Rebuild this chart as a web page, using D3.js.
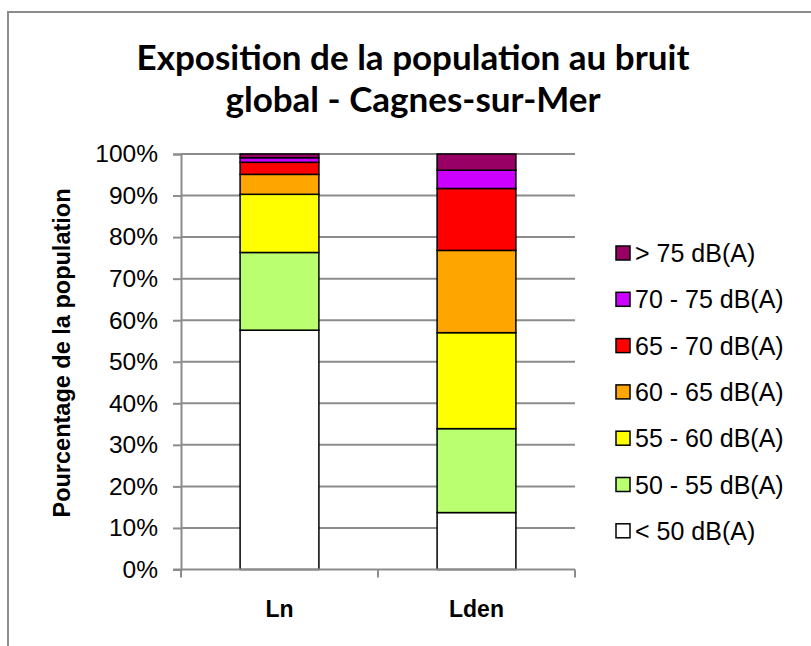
<!DOCTYPE html>
<html>
<head>
<meta charset="utf-8">
<script src="https://cdnjs.cloudflare.com/ajax/libs/d3/7.8.5/d3.min.js"></script>
<style>
  body { margin: 0; background: #fff; }
</style>
</head>
<body>
<div id="chart"></div>
<script>
var categories = ["Ln", "Lden"];
var classes = ["< 50 dB(A)", "50 - 55 dB(A)", "55 - 60 dB(A)", "60 - 65 dB(A)", "65 - 70 dB(A)", "70 - 75 dB(A)", "> 75 dB(A)"];
// share of population per class, bottom to top
var ln_values = [57.6, 18.7, 14.0, 4.8, 2.9, 1.1, 0.9];
var lden_values = [13.7, 20.2, 23.1, 19.8, 14.9, 4.4, 3.9];
var yTicks = [0, 10, 20, 30, 40, 50, 60, 70, 80, 90, 100];
var colors = ["#ffffff", "#b9ff6f", "#ffff00", "#ffa500", "#ff0000", "#cc00ff", "#990066"];

var w = 811;
var h = 646;
var plot = { left: 181, right: 575, top: 154, bottom: 569.5 };
var arial = "'Liberation Sans', Arial, sans-serif";

var svg = d3.select("#chart")
            .append("svg")
            .attr("width", w)
            .attr("height", h)
            .style("font-family", arial);

// outer frame (right/bottom edges are cut off in the original)
svg.append("rect")
   .attr("x", 8).attr("y", 12)
   .attr("width", w).attr("height", h)
   .attr("fill", "none")
   .attr("stroke", "#8c8c8c")
   .attr("stroke-width", 2);

var xScale = d3.scaleBand()
               .domain(categories)
               .range([plot.left, plot.right])
               .paddingInner(0.6)
               .paddingOuter(0.3);
var yScale = d3.scaleLinear()
               .domain([0, 100])
               .range([plot.bottom, plot.top]);

// build stacked rows
var rows = categories.map(function(c, i){
  var vals = i == 0 ? ln_values : lden_values;
  var row = { cat: c };
  classes.forEach(function(k, j){ row[k] = vals[j]; });
  return row;
});
var stack = d3.stack().keys(classes)(rows);

// gridlines
svg.append("g")
   .selectAll("line")
   .data(yTicks.slice(1))
   .enter()
   .append("line")
   .attr("x1", plot.left).attr("x2", plot.right)
   .attr("y1", function(d){ return yScale(d); })
   .attr("y2", function(d){ return yScale(d); })
   .attr("stroke", "#8c8c8c")
   .attr("stroke-width", 2);

// bars
svg.append("g")
   .selectAll("g")
   .data(stack)
   .enter()
   .append("g")
   .attr("fill", function(d, i){ return colors[i]; })
   .selectAll("rect")
   .data(function(d){ return d; })
   .enter()
   .append("rect")
   .attr("x", function(d){ return xScale(d.data.cat); })
   .attr("y", function(d){ return yScale(d[1]); })
   .attr("width", xScale.bandwidth())
   .attr("height", function(d){ return yScale(d[0]) - yScale(d[1]); })
   .attr("stroke", "#000")
   .attr("stroke-width", 1.5);

// y axis
var yAxis = d3.axisLeft(yScale)
              .tickValues(yTicks)
              .tickSize(8)
              .tickPadding(15)
              .tickFormat(function(d){ return d + "%"; });
var gy = svg.append("g")
   .attr("transform", "translate(" + plot.left + ",0)")
   .call(yAxis);
gy.select(".domain").attr("stroke", "#8c8c8c").attr("stroke-width", 2);
gy.selectAll(".tick line").attr("stroke", "#8c8c8c").attr("stroke-width", 2);
gy.selectAll(".tick text")
  .style("font-size", "24.5px")
  .style("font-family", arial)
  .attr("fill", "#000");

// x axis: line + boundary ticks
svg.append("line")
   .attr("x1", plot.left - 8).attr("x2", plot.right)
   .attr("y1", plot.bottom).attr("y2", plot.bottom)
   .attr("stroke", "#8c8c8c").attr("stroke-width", 2);
var bounds = [plot.left, (plot.left + plot.right) / 2, plot.right];
svg.append("g")
   .selectAll("line")
   .data(bounds)
   .enter()
   .append("line")
   .attr("x1", function(d){ return d; }).attr("x2", function(d){ return d; })
   .attr("y1", plot.bottom).attr("y2", plot.bottom + 8)
   .attr("stroke", "#8c8c8c").attr("stroke-width", 2);
svg.append("g")
   .selectAll("text")
   .data(categories)
   .enter()
   .append("text")
   .attr("x", function(d){ return xScale(d) + xScale.bandwidth() / 2; })
   .attr("y", 617)
   .attr("text-anchor", "middle")
   .style("font-size", "23px")
   .style("font-weight", "bold")
   .text(function(d){ return d; });

// y axis title
svg.append("text")
   .attr("transform", "translate(70,353) rotate(-90)")
   .attr("text-anchor", "middle")
   .style("font-size", "23.5px")
   .style("font-weight", "bold")
   .text("Pourcentage de la  population");

// title
var title = ["Exposition de la population au bruit", "global - Cagnes-sur-Mer"];
svg.append("g")
   .selectAll("text")
   .data(title)
   .enter()
   .append("text")
   .attr("x", 413)
   .attr("y", function(d, i){ return 70 + i * 42; })
   .attr("text-anchor", "middle")
   .style("font-family", "Lato, sans-serif")
   .style("font-size", "35px")
   .style("font-weight", "bold")
   .text(function(d){ return d; });

// legend, top entry first
var legendItems = classes.slice().reverse();
var legendColors = colors.slice().reverse();
var legend = svg.append("g")
   .selectAll("g")
   .data(legendItems)
   .enter()
   .append("g")
   .attr("transform", function(d, i){ return "translate(616," + (253 + i * 46.3) + ")"; });
legend.append("rect")
   .attr("x", 0).attr("y", -7)
   .attr("width", 14).attr("height", 14)
   .attr("fill", function(d, i){ return legendColors[i]; })
   .attr("stroke", "#000")
   .attr("stroke-width", 1.5);
legend.append("text")
   .attr("x", 19)
   .attr("y", 9)
   .style("font-size", "25px")
   .text(function(d){ return d; });
</script>
</body>
</html>
